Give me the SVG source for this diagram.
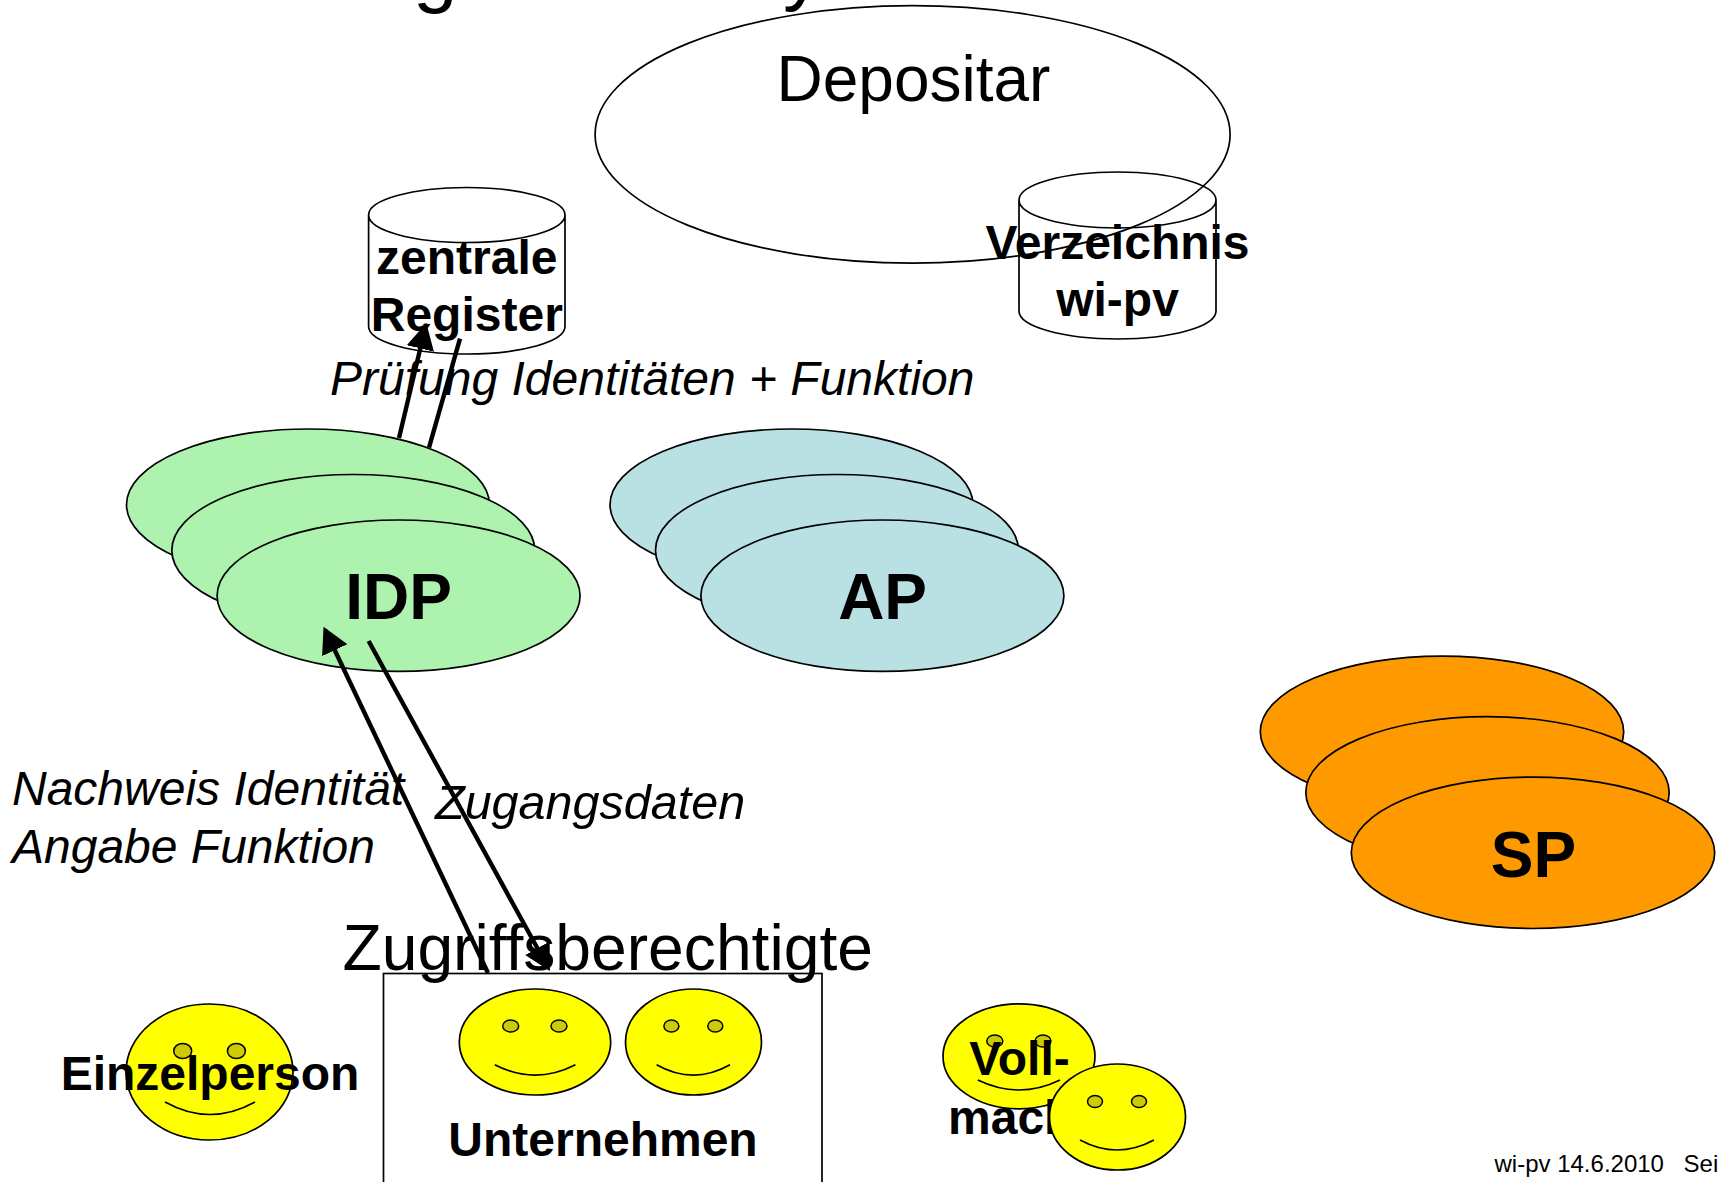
<svg xmlns="http://www.w3.org/2000/svg" width="1719" height="1182" viewBox="0 0 1719 1182">
<style>
text{font-family:"Liberation Sans",Arial,sans-serif;fill:#000}
.b{font-weight:bold;font-size:48px;text-anchor:middle}
.big{font-weight:bold;font-size:64px;text-anchor:middle}
.r{font-size:64px}
.i{font-style:italic;font-size:48px}
.o{stroke:#000;stroke-width:1.7;fill:none}
.g{stroke:#000;stroke-width:1.7;fill:#ADF3AF}
.t{stroke:#000;stroke-width:1.7;fill:#B9E0E3}
.s{stroke:#000;stroke-width:1.7;fill:#FF9900}
.y{stroke:#000;stroke-width:1.7;fill:#FFFF00}
.e{stroke:#000;stroke-width:1.5;fill:#CCCC00}
.m{stroke:#000;stroke-width:1.7;fill:none}
.c{stroke:#000;stroke-width:4.4;fill:none}
.a{marker-end:url(#h)}
</style>
<defs>
<marker id="h" markerUnits="userSpaceOnUse" markerWidth="28" markerHeight="30" refX="22" refY="15" orient="auto"><path d="M0,1 L26,15 L0,29 Z" fill="#000"/></marker>
</defs>
<rect width="1719" height="1182" fill="#fff"/>
<g id="title"><text class="r" x="413" y="-3.5" style="font-size:80px">g</text><text class="r" x="783" y="-5" style="font-size:80px">y</text></g>
<g id="depositar"><ellipse class="o" cx="912.6" cy="134.4" rx="317.5" ry="128.7"/><text class="r" x="776.5" y="101">Depositar</text></g>
<g id="zentrale-register"><path class="o" d="M368.6,215 A98.2,27.5 0 0 1 565,215 A98.2,27.5 0 0 1 368.6,215 V326.5 A98.2,27.5 0 0 0 565,326.5 V215"/><text class="b" x="466.8" y="274">zentrale</text><text class="b" x="466.8" y="331">Register</text></g>
<g id="verzeichnis"><path class="o" d="M1019,200 A98.5,28 0 0 1 1216,200 A98.5,28 0 0 1 1019,200 V311 A98.5,28 0 0 0 1216,311 V200"/><text class="b" x="1117.5" y="259">Verzeichnis</text><text class="b" x="1117.5" y="316">wi-pv</text></g>
<g id="idp"><ellipse class="g" cx="308" cy="504.7" rx="181.5" ry="75.7"/><ellipse class="g" cx="353.3" cy="550.2" rx="181.5" ry="75.7"/><ellipse class="g" cx="398.6" cy="595.7" rx="181.5" ry="75.7"/><text class="big" x="398.6" y="619">IDP</text></g>
<g id="ap"><ellipse class="t" cx="791.5" cy="504.7" rx="181.5" ry="75.7"/><ellipse class="t" cx="837" cy="550.2" rx="181.5" ry="75.7"/><ellipse class="t" cx="882.4" cy="595.7" rx="181.5" ry="75.7"/><text class="big" x="882.6" y="619">AP</text></g>
<g id="sp"><ellipse class="s" cx="1442" cy="731.8" rx="181.7" ry="75.7"/><ellipse class="s" cx="1487.5" cy="792.4" rx="181.7" ry="75.7"/><ellipse class="s" cx="1533" cy="852.8" rx="181.7" ry="75.7"/><text class="big" x="1533.4" y="876.5">SP</text></g>
<g id="label-pruefung"><text class="i" x="330" y="395">Prüfung Identitäten + Funktion</text></g>
<g id="label-nachweis"><text class="i" x="12" y="805">Nachweis Identität</text><text class="i" x="12" y="863">Angabe Funktion</text></g>
<g id="label-zugang"><text class="i" x="435" y="819" style="font-size:48.5px">Zugangsdaten</text></g>
<g id="unternehmen"><rect class="o" x="383.5" y="973.5" width="438.5" height="220"/><text class="r" x="342.5" y="970" style="font-size:64.2px">Zugriffsberechtigte</text>
<ellipse class="y" cx="535" cy="1042" rx="75.7" ry="53"/><ellipse class="e" cx="510.7" cy="1026" rx="8" ry="6"/><ellipse class="e" cx="559" cy="1026" rx="8" ry="6"/><path class="m" d="M494.8,1064.7 Q535,1085.5 575.4,1064.7"/>
<ellipse class="y" cx="693.5" cy="1042" rx="68" ry="53"/><ellipse class="e" cx="671.4" cy="1026" rx="7.5" ry="6"/><ellipse class="e" cx="715.3" cy="1026" rx="7.5" ry="6"/><path class="m" d="M656.6,1064.7 Q693.3,1085.5 730,1064.7"/>
<text class="b" x="603" y="1156">Unternehmen</text></g>
<g id="einzelperson"><ellipse class="y" cx="209.5" cy="1072" rx="83.5" ry="68"/><ellipse class="e" cx="182.7" cy="1051" rx="9" ry="7.5"/><ellipse class="e" cx="236.4" cy="1051" rx="9" ry="7.5"/><path class="m" d="M165,1102 Q210,1127 255,1102"/><text class="b" x="210" y="1090">Einzelperson</text></g>
<g id="vollmacht"><ellipse class="y" cx="1019" cy="1056.3" rx="76" ry="52.5"/><ellipse class="e" cx="994.8" cy="1041" rx="8" ry="6"/><ellipse class="e" cx="1043" cy="1041" rx="8" ry="6"/><path class="m" d="M977.8,1080 Q1019,1100 1060,1080"/><text class="b" x="1019.5" y="1075">Voll-</text><text class="b" x="948" y="1134" style="text-anchor:start">mach</text>
<ellipse class="y" cx="1117.5" cy="1117" rx="68" ry="53"/><ellipse class="e" cx="1095" cy="1101.5" rx="7.5" ry="6"/><ellipse class="e" cx="1139" cy="1101.5" rx="7.5" ry="6"/><path class="m" d="M1080,1140 Q1117,1160 1154,1140"/></g>
<g id="footer"><text x="1494.5" y="1171.5" font-size="24">wi-pv 14.6.2010</text><text x="1683.6" y="1171.5" font-size="24">Sei</text></g>
<g id="connectors">
<line class="c a" x1="399" y1="438" x2="425.4" y2="327"/>
<line class="c" x1="429" y1="447.7" x2="460" y2="338.7"/>
<line class="c a" x1="488" y1="973" x2="325.3" y2="630.3"/>
<line class="c a" x1="368.6" y1="641" x2="548" y2="967.5"/>
</g>
</svg>
